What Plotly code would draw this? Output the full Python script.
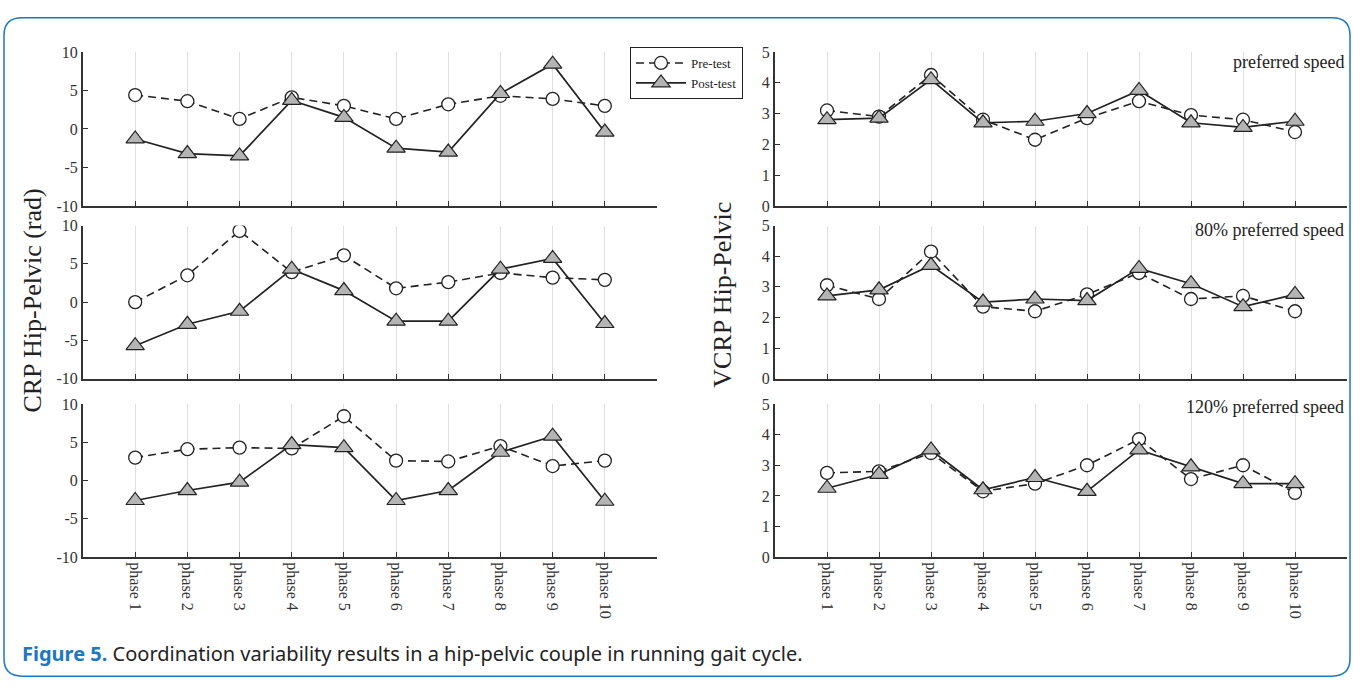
import plotly.graph_objects as go

W, H = 1353, 691

phases = [f"phase {i}" for i in range(1, 11)]

# CRP Hip-Pelvic (rad) - left column
crp_pre_pref = [4.4, 3.6, 1.3, 4.1, 3.0, 1.3, 3.2, 4.3, 3.9, 3.0]
crp_post_pref = [-1.3, -3.2, -3.5, 3.7, 1.5, -2.5, -3.0, 4.6, 8.4, -0.4]
crp_pre_80 = [0.0, 3.5, 9.3, 3.9, 6.1, 1.8, 2.6, 3.8, 3.2, 2.9]
crp_post_80 = [-5.7, -2.9, -1.2, 4.3, 1.5, -2.5, -2.5, 4.3, 5.7, -2.8]
crp_pre_120 = [3.0, 4.1, 4.3, 4.2, 8.4, 2.6, 2.5, 4.5, 1.9, 2.6]
crp_post_120 = [-2.6, -1.3, -0.2, 4.7, 4.3, -2.6, -1.3, 3.7, 5.8, -2.7]

# VCRP Hip-Pelvic - right column
vcrp_pre_pref = [3.1, 2.9, 4.25, 2.8, 2.15, 2.85, 3.4, 2.95, 2.8, 2.4]
vcrp_post_pref = [2.8, 2.85, 4.1, 2.7, 2.75, 3.0, 3.75, 2.7, 2.55, 2.75]
vcrp_pre_80 = [3.05, 2.6, 4.15, 2.35, 2.2, 2.75, 3.45, 2.6, 2.7, 2.2]
vcrp_post_80 = [2.7, 2.9, 3.7, 2.5, 2.6, 2.55, 3.6, 3.1, 2.35, 2.75]
vcrp_pre_120 = [2.75, 2.8, 3.4, 2.15, 2.4, 3.0, 3.85, 2.55, 3.0, 2.1]
vcrp_post_120 = [2.25, 2.7, 3.5, 2.2, 2.6, 2.15, 3.5, 2.95, 2.4, 2.4]

crp_ticks = [-10, -5, 0, 5, 10]
crp_ticktext = ["-10", "-5", "0", "5", "10"]
vcrp_ticks = [0, 1, 2, 3, 4, 5]

speed_labels = ["preferred speed", "80% preferred speed", "120% preferred speed"]
series_names = ["Pre-test", "Post-test"]

SERIF = "Liberation Serif"
AX = "#333333"


def fx(x):
    return x / W


def fy(y):
    return 1 - y / H


# panel geometry (pixels)
left_x = (83, 657)
right_x = (775, 1347)
rows_y = [(45, 203), (223, 380), (406, 563)]

fig = go.Figure()

left_data = [(crp_pre_pref, crp_post_pref), (crp_pre_80, crp_post_80), (crp_pre_120, crp_post_120)]
right_data = [(vcrp_pre_pref, vcrp_post_pref), (vcrp_pre_80, vcrp_post_80), (vcrp_pre_120, vcrp_post_120)]

layout_axes = {}
idx = 0
for col, (data, xpx) in enumerate([(left_data, left_x), (right_data, right_x)]):
    for r in range(3):
        idx += 1
        xa = "x" if idx == 1 else f"x{idx}"
        ya = "y" if idx == 1 else f"y{idx}"
        pre, post = data[r]
        fig.add_trace(go.Scatter(
            x=phases, y=pre, xaxis=xa, yaxis=ya, mode="lines+markers",
            name=series_names[0], legendgroup="pre", showlegend=(idx == 1),
            line=dict(color="#222222", width=1.6, dash="8px,5px"),
            marker=dict(symbol="circle", size=13, color="white",
                        line=dict(color="#222222", width=1.3)),
        ))
        fig.add_trace(go.Scatter(
            x=phases, y=post, xaxis=xa, yaxis=ya, mode="lines+markers",
            name=series_names[1], legendgroup="post", showlegend=(idx == 1),
            line=dict(color="#222222", width=1.7),
            marker=dict(symbol="triangle-up", size=16, color="#b4b4b4",
                        line=dict(color="#222222", width=1.2)),
        ))
        y0, y1 = rows_y[r]
        xkey = "xaxis" if idx == 1 else f"xaxis{idx}"
        ykey = "yaxis" if idx == 1 else f"yaxis{idx}"
        layout_axes[xkey] = dict(
            domain=[fx(xpx[0]), fx(xpx[1])], anchor=ya, type="category",
            categoryorder="array", categoryarray=phases,
            range=[-1, 10], showline=True, linecolor=AX, linewidth=2,
            ticks="inside", ticklen=5, tickcolor=AX, tickwidth=1.3,
            showgrid=True, gridcolor="#e0e0e0", gridwidth=1,
            showticklabels=(r == 2), tickangle=90,
            tickfont=dict(family=SERIF, size=16, color="#333"),
            zeroline=False, fixedrange=True,
        )
        if col == 0:
            yextra = dict(range=[-10, 10], tickvals=crp_ticks, ticktext=crp_ticktext)
        else:
            yextra = dict(range=[0, 5], tickvals=vcrp_ticks)
        layout_axes[ykey] = dict(
            domain=[fy(y1), fy(y0)], anchor=xa, showline=True, linecolor=AX,
            linewidth=2, ticks="inside", ticklen=5, tickcolor=AX, tickwidth=1.3,
            showgrid=False, zeroline=False,
            tickfont=dict(family=SERIF, size=16, color="#333"), fixedrange=True,
            **yextra,
        )

annotations = []
# speed labels in right panels
label_y = [55, 228, 409]
for lab, yy in zip(speed_labels, label_y):
    annotations.append(dict(
        text=lab, xref="paper", yref="paper", x=fx(1346), y=fy(yy),
        xanchor="right", yanchor="middle", showarrow=False,
        font=dict(family=SERIF, size=18, color="#222"),
    ))
# y-axis titles
annotations.append(dict(
    text="CRP Hip-Pelvic (rad)", xref="paper", yref="paper", x=fx(33), y=fy(300),
    textangle=-90, showarrow=False, xanchor="center", yanchor="middle",
    font=dict(family=SERIF, size=26, color="#222"),
))
annotations.append(dict(
    text="VCRP Hip-Pelvic", xref="paper", yref="paper", x=fx(723), y=fy(294),
    textangle=-90, showarrow=False, xanchor="center", yanchor="middle",
    font=dict(family=SERIF, size=26, color="#222"),
))
# caption
annotations.append(dict(
    text="<b style='color:#1c78c0'>Figure 5.</b> Coordination variability results in a hip-pelvic couple in running gait cycle.",
    xref="paper", yref="paper", x=fx(20), y=fy(662), xanchor="left", yanchor="middle",
    showarrow=False, font=dict(family="Noto Sans", size=20, color="#222"),
))

# rounded blue frame
L, R, T, B, rr = 4, 1350, 10, 685, 18
rx, ry = rr / W, rr / H
path = (
    f"M {fx(L)},{fy(T) - ry} Q {fx(L)},{fy(T)} {fx(L) + rx},{fy(T)} "
    f"L {fx(R) - rx},{fy(T)} Q {fx(R)},{fy(T)} {fx(R)},{fy(T) - ry} "
    f"L {fx(R)},{fy(B) + ry} Q {fx(R)},{fy(B)} {fx(R) - rx},{fy(B)} "
    f"L {fx(L) + rx},{fy(B)} Q {fx(L)},{fy(B)} {fx(L)},{fy(B) + ry} Z"
)
shapes = [dict(type="path", xref="paper", yref="paper", path=path,
               line=dict(color="#1c78c0", width=1.5), fillcolor="rgba(0,0,0,0)",
               layer="below")]

fig.update_layout(
    width=W, height=H, margin=dict(l=0, r=0, t=0, b=0),
    paper_bgcolor="white", plot_bgcolor="white",
    showlegend=True,
    legend=dict(x=fx(630), y=fy(40), xanchor="left", yanchor="top",
                bordercolor="#222", borderwidth=1, bgcolor="white",
                font=dict(family=SERIF, size=13, color="#222"),
                tracegroupgap=0, itemwidth=50),
    annotations=annotations, shapes=shapes,
    **layout_axes,
)

fig.write_html(
    "out.html",
    config={"displayModeBar": False},
    post_script="document.body.style.margin='0';document.body.style.overflow='hidden';",
)
